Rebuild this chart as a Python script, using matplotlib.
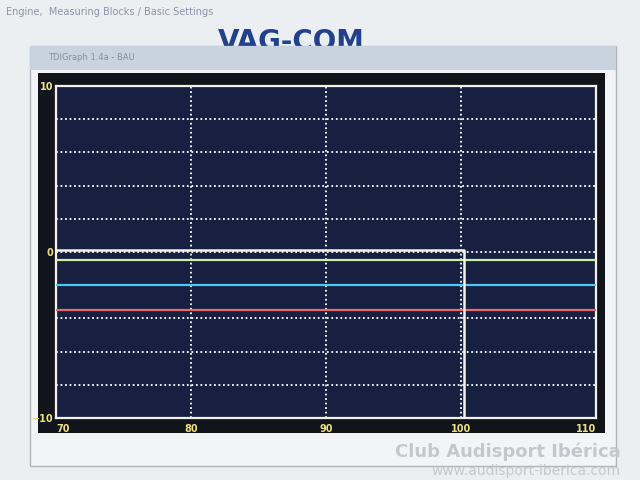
import matplotlib.pyplot as plt
from matplotlib.patches import Rectangle

# trace values
x_span = [70, 110]
white_x = [70, 100.2, 100.2]
white_y = [0.1, 0.1, -10]
green_y = [-0.5, -0.5]
blue_y = [-2.0, -2.0]
red_y = [-3.5, -3.5]

x_ticks = [70, 80, 90, 100, 110]
y_ticks = [-10, 0, 10]
y_grid = [-8, -6, -4, -2, 0, 2, 4, 6, 8]
x_grid = [80, 90, 100]

fig = plt.figure(figsize=(6.4, 4.8), dpi=100, facecolor='#eceff2')

# window chrome around the graph
fig.text(0.01, 0.985, "Engine,  Measuring Blocks / Basic Settings", color='#8a94a8',
         fontsize=7, va='top')
fig.text(0.34, 0.883, "VAG-COM", color='#23408e', fontsize=20, fontweight='bold',
         va='bottom', zorder=-4)
fig.add_artist(Rectangle((0.047, 0.03), 0.915, 0.875, transform=fig.transFigure,
                         facecolor='#f3f4f6', edgecolor='#b0b4ba', lw=1, zorder=-3))
fig.add_artist(Rectangle((0.047, 0.855), 0.915, 0.05, transform=fig.transFigure,
                         facecolor='#c9d3e0', edgecolor='none', zorder=-2))
fig.text(0.075, 0.88, "TDIGraph 1.4a - BAU", color='#8a8f98', fontsize=6, va='center')
fig.add_artist(Rectangle((0.06, 0.098), 0.886, 0.75, transform=fig.transFigure,
                         facecolor='#12141c', edgecolor='none', zorder=-1))

ax = fig.add_axes([0.0875, 0.129, 0.844, 0.692])
ax.set_zorder(5)
ax.set_facecolor('#172040')

for y in y_grid:
    ax.axhline(y, color='white', linestyle=(0, (1, 1.5)), lw=1.3, zorder=1)
for x in x_grid:
    ax.axvline(x, color='white', linestyle=(0, (1, 1.5)), lw=1.3, zorder=1)

ax.plot(x_span, red_y, color='#e86a6a', lw=1.6, zorder=3)
ax.plot(x_span, blue_y, color='#4cc8f4', lw=1.6, zorder=3)
ax.plot(x_span, green_y, color='#cdf0a8', lw=1.6, zorder=3)
ax.plot(white_x, white_y, color='#f4f2e8', lw=1.8, zorder=4)

ax.set_xlim(70, 110)
ax.set_ylim(-10, 10)
for s in ax.spines.values():
    s.set_color('#f4f2e8')
    s.set_linewidth(1.6)

ax.set_xticks(x_ticks)
ax.set_yticks(y_ticks)
ax.tick_params(length=0, colors='#ece27a', labelsize=7, pad=4)
for lab in ax.get_xticklabels() + ax.get_yticklabels():
    lab.set_fontweight('bold')
xl = ax.get_xticklabels()
xl[0].set_ha('left')
xl[-1].set_ha('right')
ax.tick_params(axis='y', pad=2)

# watermark
fig.text(0.97, 0.058, "Club Audisport Ibérica", color='#c4c8cc', fontsize=13,
         fontweight='bold', ha='right', va='center')
fig.text(0.97, 0.018, "www.audisport-iberica.com", color='#c4c8cc', fontsize=10,
         ha='right', va='center')

plt.savefig("out.png", dpi=100, facecolor=fig.get_facecolor())
